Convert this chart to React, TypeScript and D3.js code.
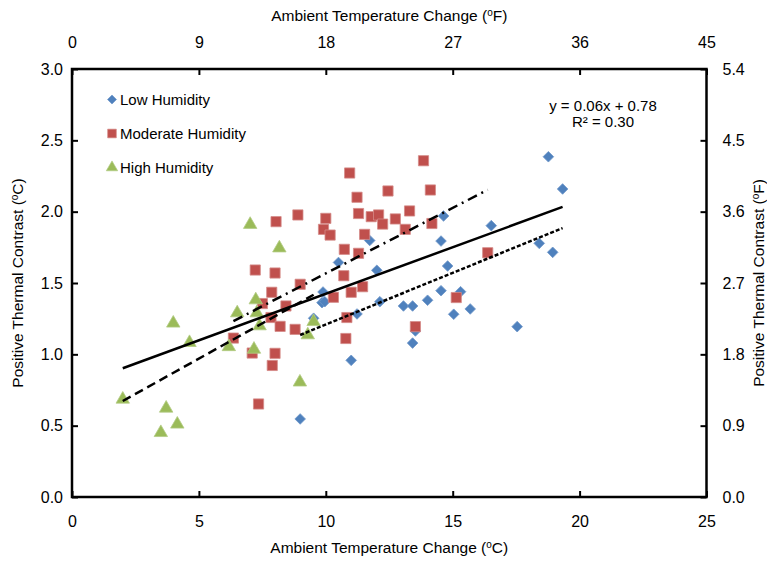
import React, { useEffect, useRef } from 'react';
import * as d3 from 'd3';

type Pt = [number, number];

// [ambient temperature change (°C), positive thermal contrast (°C)]
const lowHumidity: Pt[] = [
    [18.77, 2.385], [19.33, 2.159], [14.64, 1.97], [16.52, 1.902], [11.73, 1.798],
    [14.54, 1.794], [18.41, 1.778], [18.94, 1.715], [10.5, 1.644], [12.01, 1.589],
    [14.8, 1.619], [9.89, 1.437], [9.85, 1.362], [9.96, 1.369], [12.13, 1.369],
    [11.23, 1.283], [9.52, 1.253], [13.06, 1.339], [13.42, 1.339], [14.01, 1.379],
    [14.54, 1.446], [15.31, 1.439], [15.04, 1.281], [15.69, 1.318], [13.53, 1.164],
    [13.42, 1.079], [11.0, 0.958], [17.54, 1.194], [8.99, 0.547]
];

const moderateHumidity: Pt[] = [
    [13.85, 2.357], [10.94, 2.271], [14.12, 2.152], [12.45, 2.145], [11.23, 2.101],
    [11.29, 1.987], [13.3, 2.005], [11.79, 1.965], [12.08, 1.977], [12.24, 1.913],
    [12.74, 1.949], [13.13, 1.876], [14.18, 1.917], [11.53, 1.841], [10.73, 1.736],
    [11.29, 1.708], [16.38, 1.712], [10.71, 1.551], [11.0, 1.435], [11.45, 1.474],
    [10.3, 1.4], [10.83, 1.258], [10.79, 1.111], [13.53, 1.194], [15.14, 1.398],
    [8.99, 1.491], [8.04, 1.93], [8.9, 1.977], [10.0, 1.953], [9.91, 1.876],
    [10.17, 1.836], [7.22, 1.591], [8.0, 1.57], [7.87, 1.435], [7.5, 1.356],
    [8.43, 1.339], [7.84, 1.258], [8.2, 1.196], [8.79, 1.175], [6.36, 1.114],
    [7.1, 1.009], [8.0, 1.007], [7.89, 0.922], [7.35, 0.652]
];

const highHumidity: Pt[] = [
    [7.02, 1.91], [8.17, 1.745], [2.0, 0.685], [3.99, 1.218], [4.63, 1.082],
    [3.71, 0.622], [4.15, 0.51], [3.5, 0.451], [6.51, 1.29], [7.24, 1.381],
    [7.28, 1.29], [7.39, 1.199], [6.18, 1.053], [7.17, 1.035], [8.98, 0.805],
    [9.52, 1.229], [9.29, 1.136]
];

const xTicksC = [0, 5, 10, 15, 20, 25];
const xTicksF = [0, 9, 18, 27, 36, 45];
const yTicksC = [0, 0.5, 1, 1.5, 2, 2.5, 3];
const yTicksF = [0, 0.9, 1.8, 2.7, 3.6, 4.5, 5.4];

const equationText = 'y = 0.06x + 0.78';
const r2Text = 'R² = 0.30';

// least squares line over the x range of the points (like Excel's linear trendline)
const fitLine = (pts: Pt[]) => {
    const mx = d3.mean(pts, d => d[0]) || 0;
    const my = d3.mean(pts, d => d[1]) || 0;
    const sxy = d3.sum(pts, d => (d[0] - mx) * (d[1] - my));
    const sxx = d3.sum(pts, d => (d[0] - mx) ** 2);
    const m = sxy / sxx;
    const b = my - m * mx;
    const [x0, x1] = d3.extent(pts, d => d[0]) as [number, number];
    return [[x0, m * x0 + b], [x1, m * x1 + b]] as Pt[];
};

const FONT = '"Liberation Sans", Arial, sans-serif';

const App: React.FC = () => {
    const svgRef = useRef<SVGSVGElement>(null);
    const width = 767;
    const height = 563;

    useEffect(() => {
        const svg = d3.select(svgRef.current);
        svg.selectAll('*').remove();

        const left = 72, right = 706.5, top = 69, bottom = 497;

        const x = d3.scaleLinear().domain([0, 25]).range([left, right]);
        const xF = d3.scaleLinear().domain([0, 45]).range([left, right]);
        const y = d3.scaleLinear().domain([0, 3]).range([bottom, top]);
        const yF = d3.scaleLinear().domain([0, 5.4]).range([bottom, top]);

        svg.append('rect').attr('width', width).attr('height', height).attr('fill', '#fff');

        // Axes (ticks point inward)
        const styleAxis = (g: d3.Selection<SVGGElement, unknown, null, undefined>) => {
            g.select('.domain').remove();
            g.selectAll('line').attr('stroke', '#000').attr('stroke-width', 2);
            g.selectAll('text')
                .style('font-family', FONT)
                .style('font-size', '16px')
                .style('fill', '#000');
        };

        svg.append('g')
            .attr('transform', `translate(0,${bottom})`)
            .call(d3.axisBottom(x).tickValues(xTicksC).tickFormat(d3.format('d')).tickSizeInner(-6).tickSizeOuter(0).tickPadding(19))
            .call(styleAxis);

        svg.append('g')
            .attr('transform', `translate(0,${top})`)
            .call(d3.axisTop(xF).tickValues(xTicksF).tickFormat(d3.format('d')).tickSizeInner(-6).tickSizeOuter(0).tickPadding(21))
            .call(styleAxis);

        svg.append('g')
            .attr('transform', `translate(${left},0)`)
            .call(d3.axisLeft(y).tickValues(yTicksC).tickFormat(d3.format('.1f')).tickSizeInner(-6).tickSizeOuter(0).tickPadding(9))
            .call(styleAxis);

        svg.append('g')
            .attr('transform', `translate(${right},0)`)
            .call(d3.axisRight(yF).tickValues(yTicksF).tickFormat(d3.format('.1f')).tickSizeInner(-6).tickSizeOuter(0).tickPadding(16))
            .call(styleAxis);

        // Frame
        svg.append('rect')
            .attr('x', left).attr('y', top)
            .attr('width', right - left).attr('height', bottom - top)
            .attr('fill', 'none').attr('stroke', '#000').attr('stroke-width', 2.5);

        // Axis titles with a raised small "o" for degrees
        const title = (tx: number, ty: number, rot: number, pre: string, unit: string) => {
            const t = svg.append('text')
                .attr('transform', `translate(${tx},${ty}) rotate(${rot})`)
                .attr('text-anchor', 'middle')
                .style('font-family', FONT)
                .style('font-size', '15.5px')
                .style('fill', '#000');
            t.append('tspan').text(pre + '(');
            t.append('tspan').attr('dy', -5).style('font-size', '10px').text('o');
            t.append('tspan').attr('dy', 5).text(unit + ')');
        };
        title((left + right) / 2, 553, 0, 'Ambient Temperature Change ', 'C');
        title((left + right) / 2, 21, 0, 'Ambient Temperature Change ', 'F');
        title(23, (top + bottom) / 2, -90, 'Positive Thermal Contrast ', 'C');
        title(764, (top + bottom) / 2, -90, 'Positive Thermal Contrast ', 'F');

        // Markers
        const diamond = d3.symbol().type(d3.symbolDiamond2).size(72);
        const square = d3.symbol().type(d3.symbolSquare).size(104);
        const triangle = d3.symbol().type(d3.symbolTriangle).size(78);

        const drawSeries = (pts: Pt[], sym: d3.Symbol<any, any>, fill: string, stroke: string) => {
            svg.append('g').selectAll('path')
                .data(pts)
                .enter()
                .append('path')
                .attr('d', sym as any)
                .attr('transform', d => `translate(${x(d[0])},${y(d[1])})`)
                .attr('fill', fill)
                .attr('stroke', stroke)
                .attr('stroke-width', 0.8);
        };
        drawSeries(lowHumidity, diamond, '#4F81BD', '#6f97c9');
        drawSeries(moderateHumidity, square, '#C0504D', '#d48a88');
        drawSeries(highHumidity, triangle, '#9BBB59', '#b3cc84');

        // Trendlines
        const line = d3.line<Pt>().x(d => x(d[0])).y(d => y(d[1]));
        const trend = (pts: Pt[], dash: string | null) => {
            svg.append('path')
                .attr('d', line(fitLine(pts)))
                .attr('fill', 'none')
                .attr('stroke', '#000')
                .attr('stroke-width', 2.5)
                .attr('stroke-dasharray', dash);
        };
        trend([...lowHumidity, ...moderateHumidity, ...highHumidity], null);
        trend(highHumidity, '9,5');
        trend(moderateHumidity, '10,5,2,5');
        trend(lowHumidity, '4,2');

        // Legend
        const legend = [
            { label: 'Low Humidity', sym: diamond, fill: '#4F81BD', stroke: '#6f97c9' },
            { label: 'Moderate Humidity', sym: square, fill: '#C0504D', stroke: '#d48a88' },
            { label: 'High Humidity', sym: triangle, fill: '#9BBB59', stroke: '#b3cc84' }
        ];
        legend.forEach((l, i) => {
            const ly = 99.5 + i * 34;
            svg.append('path')
                .attr('d', l.sym as any)
                .attr('transform', `translate(112,${ly}) scale(0.85)`)
                .attr('fill', l.fill)
                .attr('stroke', l.stroke)
                .attr('stroke-width', 0.8);
            svg.append('text')
                .attr('x', 120)
                .attr('y', ly)
                .attr('dy', '0.35em')
                .style('font-family', FONT)
                .style('font-size', '15px')
                .style('fill', '#000')
                .text(l.label);
        });

        // Trendline equation
        [equationText, r2Text].forEach((s, i) => {
            svg.append('text')
                .attr('x', 603)
                .attr('y', 106 + i * 16)
                .attr('dy', '0.35em')
                .attr('text-anchor', 'middle')
                .style('font-family', FONT)
                .style('font-size', '15px')
                .style('fill', '#000')
                .text(s);
        });
    }, []);

    return (
        <svg
            ref={svgRef}
            width={width}
            height={height}
            style={{ position: 'absolute', left: 0, top: 0 }}
        />
    );
};

export default App;
